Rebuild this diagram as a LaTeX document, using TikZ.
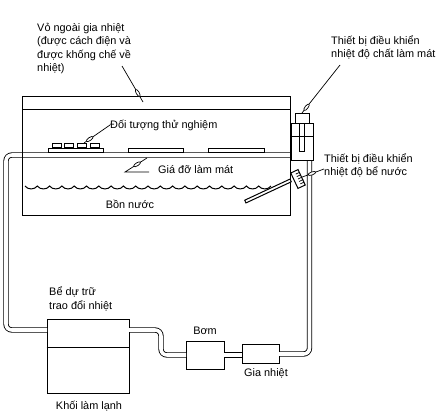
\documentclass[tikz,border=0pt]{standalone}
\usepackage{fontspec}
\setmainfont{Liberation Sans}
\usetikzlibrary{shapes.geometric,positioning,calc}
\tikzset{
  wall/.style={draw,line width=0.85pt,inner sep=0pt},
  label/.style={inner sep=0pt,align=left,font=\fontsize{9.3}{11.5}\selectfont},
  pipe/.style={draw,line width=0.75pt,double,double distance=3pt},
  bendpipe/.style={pipe,rounded corners=5pt},
  leader/.style={draw,line width=0.6pt},
  marker/.style={ellipse,draw,fill=white,line width=0.6pt,inner sep=0pt,minimum width=0.24cm,minimum height=0.09cm,sloped},
}
\begin{document}
\begin{tikzpicture}[x=0.03cm,y=-0.03cm]
\useasboundingbox (0,0) rectangle (443,416);

% Equipment along the loop
\node[wall,minimum width=2.46cm,minimum height=2.22cm] (reservoir) at (88,356) {};
\node[wall,minimum width=1.14cm,minimum height=0.84cm] (pump) at (205,355) {};
\node[wall,minimum width=1.11cm,minimum height=0.57cm] (heater) at (260.5,353.5) {};

% Coolant pipes
\coordinate (resleft) at (47,330);
\coordinate (resright) at (129,330);
\coordinate (pumpleft) at (186,355);
\coordinate (pumpright) at (224,355);
\coordinate (heatleft) at (242,355);
\coordinate (heatright) at (279,354);
\coordinate (shelfend) at (291,155);
\coordinate (ctrlout) at (309.5,160);
\draw[bendpipe] (resleft) -- (6,330) -- (6,155) -- (shelfend);
\draw[bendpipe] (resright) -- (161,330) -- (161,355) -- (pumpleft);
\draw[pipe] (pumpright) -- (heatleft);
\draw[bendpipe] (heatright) -- (309.5,354) -- (ctrlout);

% Coolant thermostat
\node[wall,minimum width=0.66cm,minimum height=1.11cm,fill=white] (control) at (302,141.5) {};
\node[wall,minimum width=0.42cm,minimum height=0.30cm] (cap) at (302,118) {};
\node[wall,minimum width=0.15cm,minimum height=0.84cm] (probe) at (301.5,137) {};
\draw[wall] (control.west |- 0,136) -- (control.east |- 0,136);
\draw[wall] (reservoir.west |- 0,347) -- (reservoir.east |- 0,347);

% Water bath and jacket
\node[wall,minimum width=8.01cm,minimum height=3.57cm] (bath) at (156.5,155.5) {};
\draw[wall] (bath.west |- 0,109) -- (bath.east |- 0,109);
\draw[line width=0.85pt] (25,186) \foreach \k in {1,...,20} { to[bend right=55] ++(12.3,0) };

% Test objects on the rack
\node[wall,minimum width=1.65cm,minimum height=0.14cm] (rackA) at (75.5,150.4) {};
\node[wall,minimum width=1.65cm,minimum height=0.14cm] (rackB) at (155.5,150.4) {};
\node[wall,minimum width=1.68cm,minimum height=0.14cm] (rackC) at (236,150.4) {};
\foreach \x/\nm in {57/a,69/b,82/c,95/d}
  \node[wall,minimum width=0.29cm,minimum height=0.12cm,anchor=south] (obj\nm) at (\x,148) {};

% Bath thermostat
\node[wall,rotate=25,minimum width=1.5cm,minimum height=0.09cm,fill=white] (rod) at (268,191) {};
\node[wall,rotate=25,minimum width=0.24cm,minimum height=0.51cm,fill=white] (dial) at (298,179) {};
\foreach \t in {-0.6,-0.3,0,0.3,0.6}
  \draw[line width=0.6pt] ($(dial.center)!\t!(dial.north)$) -- ($(dial.east)!\t!(dial.north east)$);

% Labels
\node[label,anchor=north west] (jacket) at (37,23) {Vỏ ngoài gia nhiệt\\(được cách điện và\\được khống chế về\\nhiệt)};
\node[label,anchor=west] (object) at (110,125) {Đối tượng thử nghiệm};
\node[label,anchor=west] (rack) at (158,170) {Giá đỡ làm mát};
\node[label] (water) at (130,204) {Bồn nước};
\node[label,anchor=north west] (coolctl) at (331,35) {Thiết bị điều khiển\\nhiệt độ chất làm mát};
\node[label,anchor=north west] (bathctl) at (324,153) {Thiết bị điều khiển\\nhiệt độ bể nước};
\node[label,anchor=south west] (store) at (49,311) {Bể dự trữ\\trao đổi nhiệt};
\node[label] (pumpname) at (205,331) {Bơm};
\node[label] (heatname) at (266,373) {Gia nhiệt};
\node[label] (coldname) at (89,406) {Khối làm lạnh};

% Leaders
\coordinate (jacketend) at (143,102);
\coordinate (objectend) at (84,143);
\coordinate (rackend) at (147,158);
\coordinate (rackbend) at (125,172);
\coordinate (coolend) at (302,113);
\coordinate (jacketstart) at (122,66);
\coordinate (coolstart) at (340,65);
\coordinate (bathstart) at (324,169);
\coordinate (rackstart) at (149,172);
\draw[leader] (jacketstart) -- node[marker,pos=0.75] (m1) {} (jacketend);
\draw[leader] (object.west) -- node[marker,pos=0.78] (m2) {} (objectend);
\draw[leader] (rackstart) -- (rackbend) -- node[marker,pos=0.55] (m3) {} (rackend);
\draw[leader] (coolstart) -- node[marker,pos=0.88] (m4) {} (coolend);
\draw[leader] (bathstart) -- node[marker,pos=0.55] (m5) {} (dial.east);
\end{tikzpicture}
\end{document}
